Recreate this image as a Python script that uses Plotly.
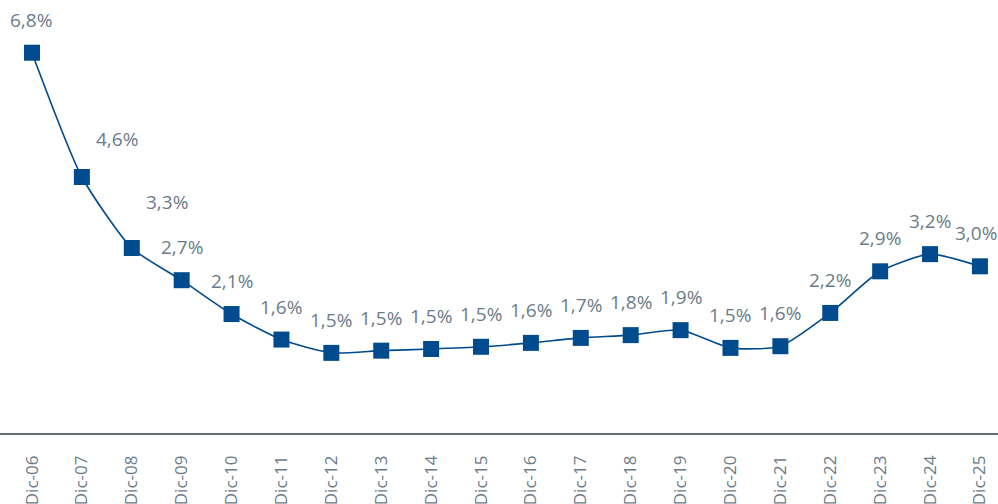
import plotly.graph_objects as go

categories = ["Dic-06", "Dic-07", "Dic-08", "Dic-09", "Dic-10", "Dic-11", "Dic-12",
              "Dic-13", "Dic-14", "Dic-15", "Dic-16", "Dic-17", "Dic-18", "Dic-19",
              "Dic-20", "Dic-21", "Dic-22", "Dic-23", "Dic-24", "Dic-25"]
values = [6.80, 4.56, 3.28, 2.70, 2.09, 1.63, 1.39, 1.43, 1.46, 1.50, 1.57, 1.66,
          1.71, 1.80, 1.48, 1.51, 2.11, 2.86, 3.17, 2.95]
labels = ["6,8%", "4,6%", "3,3%", "2,7%", "2,1%", "1,6%", "1,5%", "1,5%", "1,5%",
          "1,5%", "1,6%", "1,7%", "1,8%", "1,9%", "1,5%", "1,6%", "2,2%", "2,9%",
          "3,2%", "3,0%"]

BLUE = "#004B8D"
GRAY = "#6B7B88"
FONT = "Open Sans"

fig = go.Figure()
fig.add_trace(go.Scatter(
    x=list(range(len(categories))), y=values,
    mode="lines+markers",
    line=dict(color=BLUE, width=1.6, shape="spline", smoothing=0.6),
    marker=dict(symbol="square", size=16, color=BLUE),
    hoverinfo="skip",
))

xshift = [0] * len(labels)
yshift = [33] * len(labels)
xshift[1] = 35; yshift[1] = 38
xshift[2] = 35; yshift[2] = 46

for i, (v, t) in enumerate(zip(values, labels)):
    xs = xshift[i]
    if i == 0:
        xs = -1
    if i == len(labels) - 1:
        xs = -4
    fig.add_annotation(x=i, y=v, text=t, showarrow=False, xanchor="center", yanchor="middle",
                       xshift=xs, yshift=yshift[i],
                       font=dict(family=FONT, size=19, color=GRAY))

fig.update_layout(
    width=998, height=504,
    margin=dict(l=0, r=0, t=0, b=71, autoexpand=False),
    paper_bgcolor="white", plot_bgcolor="white",
    showlegend=False,
)
fig.update_xaxes(
    range=[-0.641, 19.362], automargin=False,
    tickmode="array", tickvals=list(range(len(categories))), ticktext=categories,
    tickangle=-90, showgrid=False, zeroline=False,
    showline=True, linecolor="#5E6E7A", linewidth=1.5,
    ticks="outside", ticklen=14, tickcolor="rgba(0,0,0,0)",
    tickfont=dict(family=FONT, size=17, color=GRAY),
)
fig.update_yaxes(range=[-0.054, 7.75], visible=False, fixedrange=True, automargin=False)

fig.write_html("out.html",
               config={"displayModeBar": False},
               post_script="document.body.style.margin='0';document.body.style.overflow='hidden';")
